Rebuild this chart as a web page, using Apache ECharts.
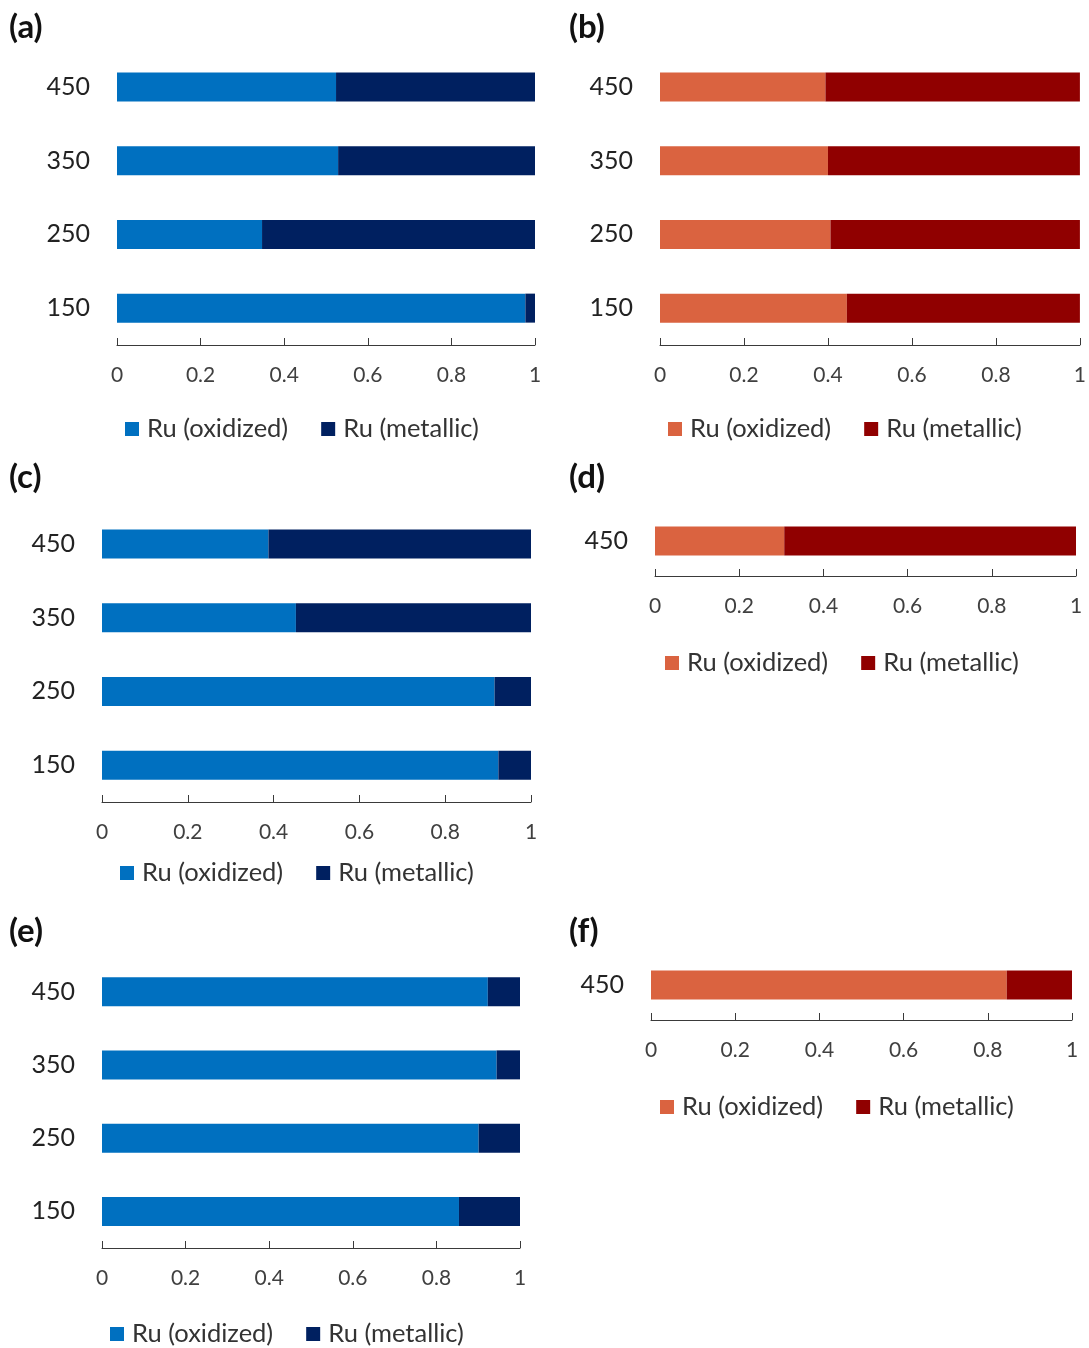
<!DOCTYPE html>
<html>
<head>
<meta charset="utf-8">
<script src="https://cdn.jsdelivr.net/npm/echarts@6/dist/echarts.min.js"></script>
<style>
html,body{margin:0;padding:0;background:#fff;}
#chart{width:1089px;height:1348px;}
</style>
</head>
<body>
<div id="chart"></div>
<script>
// ---- data (fractions) ----
const tempsFour = ['150', '250', '350', '450'];
const tempsOne = ['450'];
const seriesNames = ['Ru (oxidized)', 'Ru (metallic)'];
const xTickLabels = ['0', '0.2', '0.4', '0.6', '0.8', '1'];
const panelLabels = ['(a)', '(b)', '(c)', '(d)', '(e)', '(f)'];

const aOxidized = [0.977, 0.347, 0.529, 0.524];
const aMetallic = [0.023, 0.653, 0.471, 0.476];
const bOxidized = [0.445, 0.406, 0.400, 0.394];
const bMetallic = [0.555, 0.594, 0.600, 0.606];
const cOxidized = [0.924, 0.915, 0.452, 0.388];
const cMetallic = [0.076, 0.085, 0.548, 0.612];
const dOxidized = [0.307];
const dMetallic = [0.693];
const eOxidized = [0.854, 0.901, 0.944, 0.923];
const eMetallic = [0.146, 0.099, 0.056, 0.077];
const fOxidized = [0.845];
const fMetallic = [0.155];

// ---- styling ----
const FONT = 'Lato, "Open Sans", sans-serif';
const BLUE = ['#0070C0', '#002060'];
const RED = ['#DA6340', '#900000'];

const panels = [
  {cats: tempsFour, ox: aOxidized, met: aMetallic, col: BLUE,
   grid: {left: 117, top: 50, width: 418, height: 295}, title: [9, 11], legend: [125, 416]},
  {cats: tempsFour, ox: bOxidized, met: bMetallic, col: RED,
   grid: {left: 660, top: 50, width: 420, height: 295}, title: [569, 11], legend: [668, 416]},
  {cats: tempsFour, ox: cOxidized, met: cMetallic, col: BLUE,
   grid: {left: 102, top: 507, width: 429, height: 295}, title: [9, 461], legend: [120, 860]},
  {cats: tempsOne, ox: dOxidized, met: dMetallic, col: RED,
   grid: {left: 655, top: 506, width: 421, height: 70}, title: [569, 461], legend: [665, 650]},
  {cats: tempsFour, ox: eOxidized, met: eMetallic, col: BLUE,
   grid: {left: 102, top: 955, width: 418, height: 293}, title: [9, 915], legend: [110, 1321]},
  {cats: tempsOne, ox: fOxidized, met: fMetallic, col: RED,
   grid: {left: 651, top: 950, width: 421, height: 70}, title: [569, 915], legend: [660, 1094]}
];

const option = {
  backgroundColor: '#fff',
  animation: false,
  textStyle: {fontFamily: FONT},
  title: [], grid: [], xAxis: [], yAxis: [], legend: [], series: []
};

panels.forEach((p, i) => {
  option.title.push({
    text: panelLabels[i], left: p.title[0], top: p.title[1], padding: 0,
    textStyle: {fontFamily: FONT, fontSize: 33, fontWeight: 'bold', color: '#111'}
  });
  option.grid.push(Object.assign({containLabel: false}, p.grid));
  option.xAxis.push({
    type: 'value', gridIndex: i, min: 0, max: 1, interval: 0.2,
    axisLine: {show: true, lineStyle: {color: '#3a3a3a', width: 1}},
    axisTick: {show: true, inside: true, length: 7, lineStyle: {color: '#3a3a3a'}},
    splitLine: {show: false},
    axisLabel: {
      fontFamily: FONT, fontSize: 21, color: '#404040', margin: 20,
      formatter: v => xTickLabels[Math.round(v / 0.2)]
    }
  });
  option.yAxis.push({
    type: 'category', gridIndex: i, data: p.cats,
    axisLine: {show: false}, axisTick: {show: false}, splitLine: {show: false},
    axisLabel: {fontFamily: FONT, fontSize: 25, color: '#222', margin: 27}
  });
  option.legend.push({
    left: p.legend[0], top: p.legend[1], padding: 0, orient: 'horizontal',
    itemWidth: 14, itemHeight: 14, itemGap: 33, icon: 'rect',
    selectedMode: false,
    textStyle: {fontFamily: FONT, fontSize: 25.5, color: '#333', padding: [0, 0, 0, 3]},
    data: [
      {name: seriesNames[0], itemStyle: {color: p.col[0]}},
      {name: seriesNames[1], itemStyle: {color: p.col[1]}}
    ]
  });
  option.series.push({
    name: seriesNames[0], type: 'bar', stack: 'p' + i,
    xAxisIndex: i, yAxisIndex: i, barWidth: 29,
    itemStyle: {color: p.col[0]}, data: p.ox
  });
  option.series.push({
    name: seriesNames[1], type: 'bar', stack: 'p' + i,
    xAxisIndex: i, yAxisIndex: i, barWidth: 29,
    itemStyle: {color: p.col[1]}, data: p.met
  });
});

const chart = echarts.init(document.getElementById('chart'), null, {renderer: 'canvas'});
chart.setOption(option);
</script>
</body>
</html>
